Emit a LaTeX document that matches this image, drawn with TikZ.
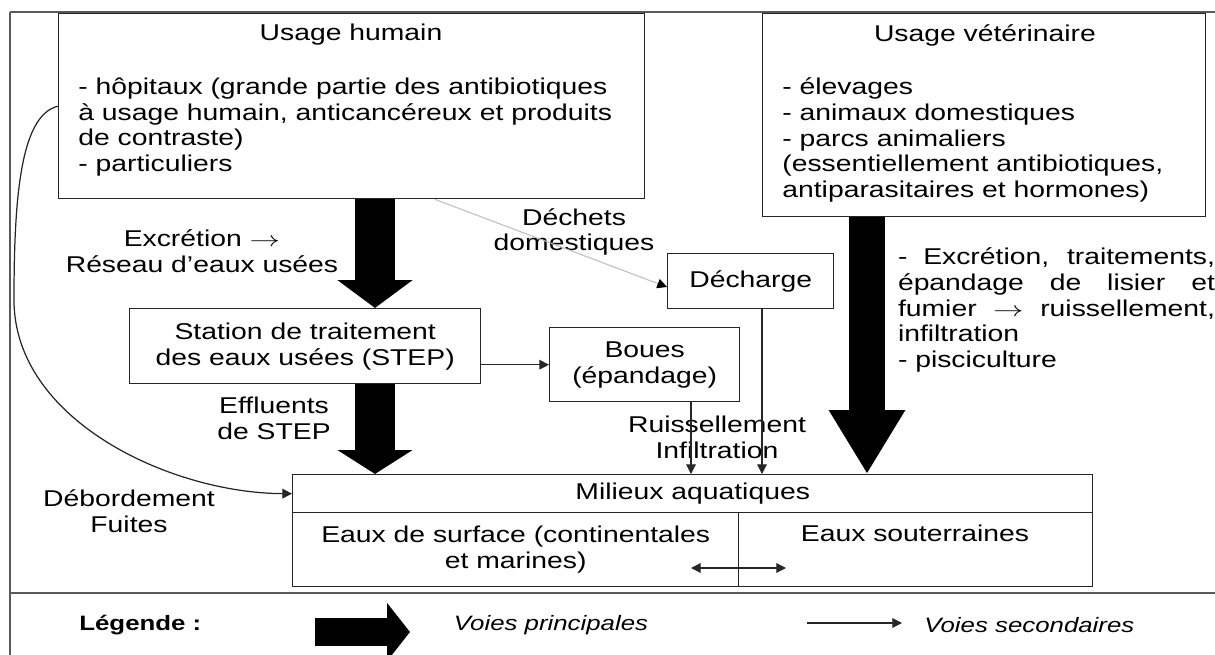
\documentclass[tikz,border=0pt]{standalone}
\usepackage{fontspec}
\setmainfont{Liberation Sans}[FakeStretch=1.24]
\usepackage{tikz}
\usetikzlibrary{positioning, arrows.meta, calc}

\hyphenpenalty=10000

\def\px{0.02cm}
\newcommand{\flowto}{\scalebox{1.45}[1]{$\rightarrow$}}

\tikzset{
    box/.style={draw=black!85, line width=0.8pt, inner sep=0pt, anchor=north west, align=center},
    frame/.style={draw=black!65, line width=1.1pt},
    lbl/.style={inner sep=0pt, align=center},
    legfont/.style={font=\fontsize{11.85pt}{13.5pt}\selectfont},
    seclink/.style={draw=black!85, line width=0.7pt, -{Triangle[length=5.5pt, width=5.5pt]}},
    greylink/.style={draw=black!25, line width=0.6pt, -{Triangle[length=5.5pt, width=5.5pt, color=black]}},
    mainlink/.style={line width=22.7pt, -{Triangle[length=15.9pt, width=42pt]}}
}

\begin{document}
\begin{tikzpicture}[x=\px, y=-\px, font=\fontsize{13pt}{14.7pt}\selectfont]
    \useasboundingbox (0,0) rectangle (1215,655);

    % frame
    \draw[frame] (10,12) -- (1215,12);
    \draw[frame] (10,12) -- (10,655);
    \draw[frame] (10,593) -- (1215,593);

    % boxes
    \node[box, minimum width=586*\px, minimum height=185*\px] (humain) at (58,13) {};
    \node[box, minimum width=443*\px, minimum height=203*\px] (veter) at (762,13) {};
    \node[box, minimum width=166*\px, minimum height=55*\px] (decharge) at (667,253) {Décharge};
    \node[box, minimum width=351*\px, minimum height=75*\px] (station) at (129,308)
        {Station de traitement\\des eaux usées (STEP)};
    \node[box, minimum width=190*\px, minimum height=74*\px] (boues) at (549,327) {Boues\\(épandage)};
    \node[box, minimum width=800*\px, minimum height=38*\px] (milieux) at (292,474) {Milieux aquatiques};
    \node[box, minimum width=446*\px, minimum height=74*\px] (surface) at (292,512)
        {Eaux de surface (continentales\\et marines)};
    \node[box, minimum width=354*\px, minimum height=74*\px] (souter) at (738,512) {};

    % texts inside boxes
    \node[lbl] (humaintitle) at (351,35) {Usage humain};
    \node[lbl, anchor=west, align=left] (humainlist) at (78,127)
        {- hôpitaux (grande partie des antibiotiques\\à usage humain, anticancéreux et produits\\de contraste)\\- particuliers};
    \node[lbl] (vetertitle) at (985,35) {Usage vétérinaire};
    \node[lbl, anchor=west, align=left] (veterlist) at (782,140)
        {- élevages\\- animaux domestiques\\- parcs animaliers\\(essentiellement antibiotiques,\\antiparasitaires et hormones)};
    \node[lbl] (soutertext) at (915,533) {Eaux souterraines};

    % labels
    \node[lbl] (excretion) at (202,251) {Excrétion \flowto\\Réseau d’eaux usées};
    \node[lbl] (dechets) at (574,232) {Déchets\\domestiques};
    \node[lbl] (effluents) at (274,418) {Effluents\\de STEP};
    \node[lbl] (ruissel) at (717,437) {Ruissellement\\Infiltration};
    \node[lbl] (debord) at (129,511) {Débordement\\Fuites};
    \node[lbl, text width=317*\px, align=justify] (vetertext) at (1056.5,310)
        {- Excrétion, traitements, épandage de lisier et fumier \flowto\ ruissellement, infiltration\\- pisciculture};

    % helper coordinates
    \coordinate (ax) at (375,0);
    \coordinate (bx) at (867,0);
    \coordinate (cx) at (691,0);
    \coordinate (dx) at (762,0);
    \coordinate (gx) at (435,0);
    \coordinate (gy) at (0,287);
    \coordinate (eauxl) at (691,568);
    \coordinate (eauxr) at (786,568);

    % main pathways
    \draw[mainlink] (humain.south -| ax) -- (station.north -| ax);
    \draw[mainlink, -{Triangle[length=13.6pt, width=42pt]}] (station.south -| ax) -- (milieux.north -| ax);
    \draw[mainlink, line width=21pt, -{Triangle[length=36.3pt, width=40.8pt]}] (veter.south -| bx) -- (milieux.north -| bx);

    % secondary pathways
    \draw[greylink] (humain.south -| gx) -- (decharge.west |- gy);
    \draw[seclink] (station.east |- boues.west) -- (boues.west);
    \draw[seclink] (boues.south -| cx) -- (milieux.north -| cx);
    \draw[seclink] (decharge.south -| dx) -- (milieux.north -| dx);
    \draw[seclink] (humain.west) .. controls (20,115) and (14,200) .. (14,300)
        .. controls (14,420) and (170,493) .. (milieux.west);
    \draw[seclink, {Triangle[length=5.5pt, width=5.5pt]}-{Triangle[length=5.5pt, width=5.5pt]}] (eauxl) -- (eauxr);

    % legend
    \coordinate (legA) at (315,632);
    \coordinate (legB) at (410,632);
    \coordinate (legC) at (807,623);
    \coordinate (legD) at (902,623);
    \node[lbl, legfont, anchor=west] (legende) at (79,625) {\bfseries Légende :};
    \draw[line width=16.4pt, -{Triangle[length=13pt, width=32.3pt]}] (legA) -- (legB);
    \node[lbl, legfont] (principales) at (551,625) {\itshape Voies principales};
    \draw[seclink] (legC) -- (legD);
    \node[lbl, legfont, anchor=west] (secondaires) at (924,625) {\itshape Voies secondaires};
\end{tikzpicture}
\end{document}
